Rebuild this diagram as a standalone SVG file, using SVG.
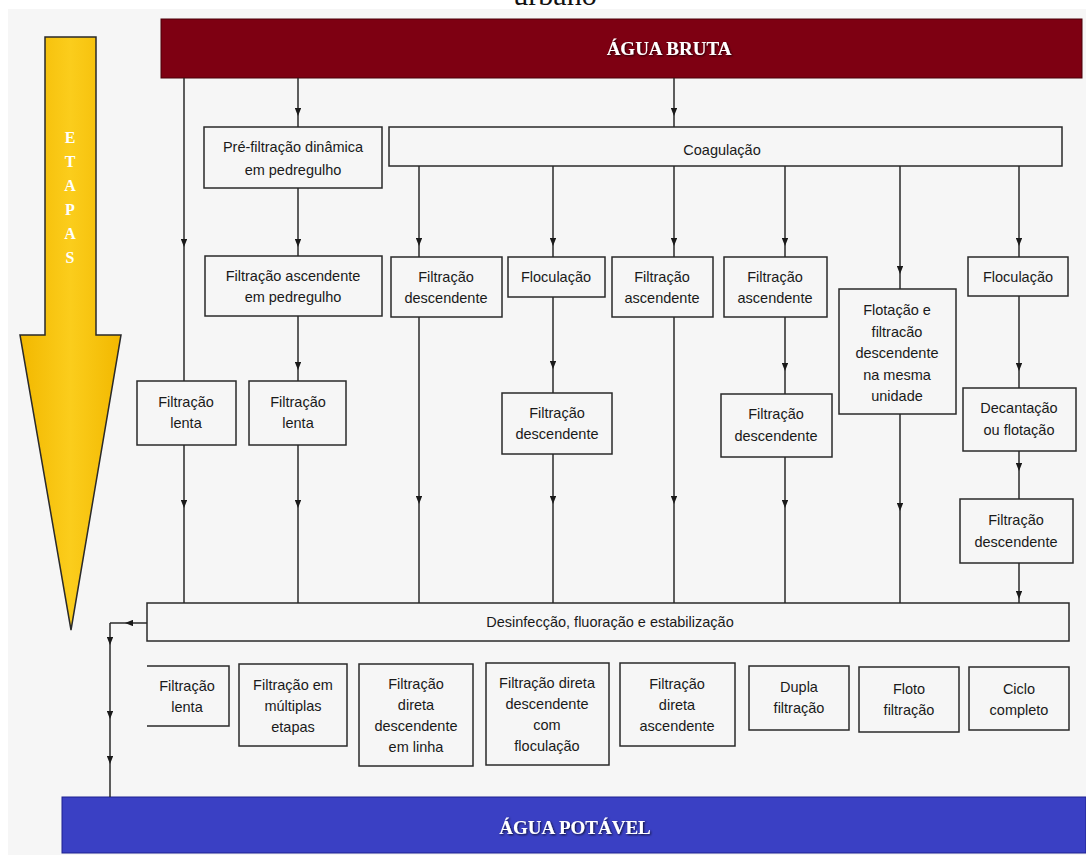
<svg xmlns="http://www.w3.org/2000/svg" width="1086" height="857" viewBox="0 0 1086 857">
<style>
.box{fill:none;stroke:#2a2a2a;stroke-width:1.5}
.t{font-family:"Liberation Sans",Arial,sans-serif;font-size:14.5px;fill:#1a1a1a;text-anchor:middle}
.c{fill:none;stroke:#2a2a2a;stroke-width:1.5;marker-mid:url(#ah)}
.band{font-family:"Liberation Serif","Times New Roman",serif;font-weight:bold;fill:#fff;text-anchor:middle}
</style>
<defs>
<marker id="ah" viewBox="0 0 10 8" refX="10" refY="4" markerWidth="8" markerHeight="6.4" markerUnits="userSpaceOnUse" orient="auto">
<path d="M0,0 L10,4 L0,8 Z" fill="#1a1a1a"/>
</marker>
<linearGradient id="yg" x1="0" y1="0" x2="1" y2="0">
<stop offset="0" stop-color="#f2b800"/>
<stop offset="0.5" stop-color="#fbcd1c"/>
<stop offset="1" stop-color="#f2b800"/>
</linearGradient>
<filter id="sh" x="-10%" y="-30%" width="120%" height="160%">
<feDropShadow dx="1" dy="1" stdDeviation="0.8" flood-color="#000" flood-opacity="0.8"/>
</filter>
</defs>
<rect x="0" y="0" width="1086" height="857" fill="#fff"/>
<rect x="8" y="9" width="1078" height="846" fill="#f6f6f6"/>
<text x="555" y="5" font-family="Liberation Serif,serif" font-size="30" fill="#111" text-anchor="middle">urbano</text>

<g id="etapas">
<polygon points="45,37 96,37 96,335 121,335 71,630 20,335 45,335" fill="url(#yg)" stroke="#2a2a2a" stroke-width="1.5"/>
<g class="band" font-size="16">
<text x="70" y="143">E</text>
<text x="70" y="167">T</text>
<text x="70" y="191">A</text>
<text x="70" y="215">P</text>
<text x="70" y="239">A</text>
<text x="70" y="263">S</text>
</g>
</g>

<g id="agua-bruta">
<rect x="161" y="19" width="921" height="59" fill="#7e0012" stroke="#4a0008" stroke-width="1"/>
<text class="band" x="669" y="55" font-size="19" filter="url(#sh)">ÁGUA BRUTA</text>
</g>

<g id="agua-potavel">
<rect x="62" y="797" width="1024" height="56" fill="#3a40c4" stroke="#1c2090" stroke-width="1"/>
<text class="band" x="575" y="834" font-size="19" filter="url(#sh)">ÁGUA POTÁVEL</text>
</g>

<g id="connectors">
<path class="c" d="M184 78 L184 247 L184 381"/>
<path class="c" d="M184 445 L184 508 L184 603"/>
<path class="c" d="M298 78 L298 116 L298 127"/>
<path class="c" d="M298 188 L298 247 L298 256"/>
<path class="c" d="M298 316 L298 370 L298 381"/>
<path class="c" d="M298 445 L298 508 L298 603"/>
<path class="c" d="M674 78 L674 116 L674 127"/>
<path class="c" d="M419 166 L419 246 L419 257"/>
<path class="c" d="M419 317 L419 504 L419 603"/>
<path class="c" d="M553 166 L553 246 L553 257"/>
<path class="c" d="M553 297 L553 369 L553 393"/>
<path class="c" d="M553 454 L553 504 L553 603"/>
<path class="c" d="M674 166 L674 246 L674 257"/>
<path class="c" d="M674 317 L674 504 L674 603"/>
<path class="c" d="M785 166 L785 246 L785 257"/>
<path class="c" d="M785 317 L785 371 L785 394"/>
<path class="c" d="M785 457 L785 508 L785 603"/>
<path class="c" d="M900 166 L900 274 L900 289"/>
<path class="c" d="M900 414 L900 511 L900 603"/>
<path class="c" d="M1019 166 L1019 246 L1019 257"/>
<path class="c" d="M1019 296 L1019 371 L1019 388"/>
<path class="c" d="M1019 451 L1019 471 L1019 499"/>
<path class="c" d="M1019 563 L1019 599 L1019 603"/>
<path class="c" d="M147 623 L125 623 L110 623"/>
<path class="c" d="M110 623 L110 645 L110 719 L110 764 L110 797"/>
</g>

<g id="pre-filtracao"><rect class="box" x="204" y="127" width="178" height="61"/>
<text class="t" x="293" y="152">Pré-filtração dinâmica</text><text class="t" x="293" y="175">em pedregulho</text></g>
<g id="coagulacao"><rect class="box" x="389" y="127" width="673" height="39"/>
<text class="t" x="722" y="155">Coagulação</text></g>
<g id="filt-asc-pedregulho"><rect class="box" x="205" y="256" width="177" height="60"/>
<text class="t" x="293" y="281">Filtração ascendente</text><text class="t" x="293" y="302">em pedregulho</text></g>
<g id="filt-lenta-1"><rect class="box" x="137" y="381" width="99" height="64"/>
<text class="t" x="186" y="407">Filtração</text><text class="t" x="186" y="428">lenta</text></g>
<g id="filt-lenta-2"><rect class="box" x="249" y="381" width="97" height="64"/>
<text class="t" x="298" y="407">Filtração</text><text class="t" x="298" y="428">lenta</text></g>
<g id="filt-desc-1"><rect class="box" x="391" y="257" width="111" height="60"/>
<text class="t" x="446" y="282">Filtração</text><text class="t" x="446" y="303">descendente</text></g>
<g id="floculacao-1"><rect class="box" x="508" y="257" width="97" height="40"/>
<text class="t" x="556" y="282">Floculação</text></g>
<g id="filt-asc-1"><rect class="box" x="612" y="257" width="101" height="60"/>
<text class="t" x="662" y="282">Filtração</text><text class="t" x="662" y="303">ascendente</text></g>
<g id="filt-asc-2"><rect class="box" x="724" y="257" width="103" height="60"/>
<text class="t" x="775" y="282">Filtração</text><text class="t" x="775" y="303">ascendente</text></g>
<g id="flotacao-filtracao"><rect class="box" x="839" y="289" width="117" height="125"/>
<text class="t" x="897" y="315">Flotação e</text><text class="t" x="897" y="337">filtracão</text><text class="t" x="897" y="358">descendente</text><text class="t" x="897" y="380">na mesma</text><text class="t" x="897" y="401">unidade</text></g>
<g id="floculacao-2"><rect class="box" x="968" y="257" width="100" height="39"/>
<text class="t" x="1018" y="282">Floculação</text></g>
<g id="filt-desc-2"><rect class="box" x="502" y="393" width="110" height="61"/>
<text class="t" x="557" y="418">Filtração</text><text class="t" x="557" y="439">descendente</text></g>
<g id="filt-desc-3"><rect class="box" x="721" y="394" width="111" height="63"/>
<text class="t" x="776" y="419">Filtração</text><text class="t" x="776" y="441">descendente</text></g>
<g id="decantacao"><rect class="box" x="963" y="388" width="113" height="63"/>
<text class="t" x="1019" y="413">Decantação</text><text class="t" x="1019" y="435">ou flotação</text></g>
<g id="filt-desc-4"><rect class="box" x="960" y="499" width="113" height="64"/>
<text class="t" x="1016" y="525">Filtração</text><text class="t" x="1016" y="547">descendente</text></g>
<g id="desinfeccao"><rect class="box" x="147" y="603" width="922" height="38"/>
<text class="t" x="610" y="627">Desinfecção, fluoração e estabilização</text></g>

<g id="res-filt-lenta"><path class="box" d="M147 666 L229 666 L229 726 L147 726"/>
<text class="t" x="187" y="691">Filtração</text><text class="t" x="187" y="712">lenta</text></g>
<g id="res-multiplas"><rect class="box" x="239" y="664" width="108" height="82"/>
<text class="t" x="293" y="690">Filtração em</text><text class="t" x="293" y="711">múltiplas</text><text class="t" x="293" y="732">etapas</text></g>
<g id="res-direta-linha"><rect class="box" x="359" y="664" width="114" height="102"/>
<text class="t" x="416" y="689">Filtração</text><text class="t" x="416" y="710">direta</text><text class="t" x="416" y="731">descendente</text><text class="t" x="416" y="752">em linha</text></g>
<g id="res-direta-floc"><rect class="box" x="486" y="663" width="123" height="102"/>
<text class="t" x="547" y="688">Filtração direta</text><text class="t" x="547" y="709">descendente</text><text class="t" x="547" y="730">com</text><text class="t" x="547" y="751">floculação</text></g>
<g id="res-direta-asc"><rect class="box" x="620" y="663" width="115" height="83"/>
<text class="t" x="677" y="689">Filtração</text><text class="t" x="677" y="710">direta</text><text class="t" x="677" y="731">ascendente</text></g>
<g id="res-dupla"><rect class="box" x="749" y="666" width="100" height="64"/>
<text class="t" x="799" y="692">Dupla</text><text class="t" x="799" y="713">filtração</text></g>
<g id="res-floto"><rect class="box" x="859" y="667" width="100" height="65"/>
<text class="t" x="909" y="694">Floto</text><text class="t" x="909" y="715">filtração</text></g>
<g id="res-ciclo"><rect class="box" x="969" y="667" width="100" height="63"/>
<text class="t" x="1019" y="694">Ciclo</text><text class="t" x="1019" y="715">completo</text></g>
</svg>
